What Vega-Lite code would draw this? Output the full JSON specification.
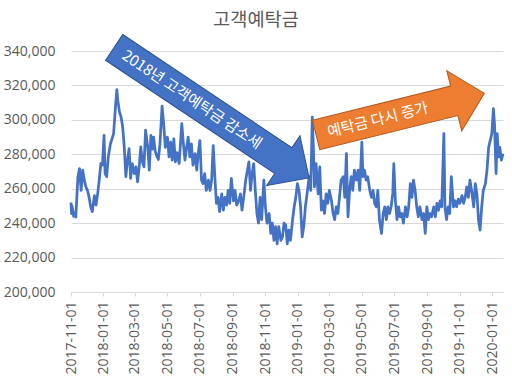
{
  "$schema": "https://vega.github.io/schema/vega-lite/v6.json",
  "width": 432,
  "height": 241,
  "autosize": {"type": "none"},
  "padding": {"left": 71, "top": 51, "right": 9, "bottom": 87},
  "background": "white",
  "title": {
    "text": "고객예탁금",
    "anchor": "middle",
    "dx": -31,
    "offset": 3,
    "font": "Noto Sans CJK KR",
    "fontSize": 18.67,
    "fontWeight": "normal",
    "color": "#595959"
  },
  "config": {
    "view": {"stroke": null},
    "axis": {
      "labelFont": "Open Sans",
      "labelFontSize": 14,
      "labelColor": "#595959",
      "gridColor": "#D9D9D9",
      "gridWidth": 1,
      "domainColor": "#D9D9D9",
      "tickColor": "#D9D9D9",
      "title": null
    }
  },
  "datasets": {
    "deposits": [
      {"date": "2017-11-01", "value": 252000},
      {"date": "2017-11-02", "value": 245500},
      {"date": "2017-11-03", "value": 250000},
      {"date": "2017-11-06", "value": 244000},
      {"date": "2017-11-08", "value": 246000},
      {"date": "2017-11-10", "value": 243500},
      {"date": "2017-11-14", "value": 267000},
      {"date": "2017-11-17", "value": 271700},
      {"date": "2017-11-20", "value": 259000},
      {"date": "2017-11-23", "value": 270800},
      {"date": "2017-11-26", "value": 265000},
      {"date": "2017-11-29", "value": 261000},
      {"date": "2017-12-02", "value": 259000},
      {"date": "2017-12-05", "value": 255000},
      {"date": "2017-12-08", "value": 249500},
      {"date": "2017-12-11", "value": 246700},
      {"date": "2017-12-15", "value": 256000},
      {"date": "2017-12-18", "value": 250500},
      {"date": "2017-12-21", "value": 257000},
      {"date": "2017-12-24", "value": 265000},
      {"date": "2017-12-27", "value": 274600},
      {"date": "2017-12-30", "value": 273700},
      {"date": "2018-01-02", "value": 291000},
      {"date": "2018-01-04", "value": 268800},
      {"date": "2018-01-07", "value": 267000},
      {"date": "2018-01-10", "value": 278500},
      {"date": "2018-01-14", "value": 286000},
      {"date": "2018-01-17", "value": 289000},
      {"date": "2018-01-20", "value": 292000},
      {"date": "2018-01-23", "value": 305500},
      {"date": "2018-01-26", "value": 317500},
      {"date": "2018-01-28", "value": 311000},
      {"date": "2018-01-31", "value": 304600},
      {"date": "2018-02-03", "value": 301700},
      {"date": "2018-02-06", "value": 296000},
      {"date": "2018-02-09", "value": 284000},
      {"date": "2018-02-12", "value": 267000},
      {"date": "2018-02-15", "value": 276600},
      {"date": "2018-02-18", "value": 283300},
      {"date": "2018-02-21", "value": 266000},
      {"date": "2018-02-24", "value": 274600},
      {"date": "2018-02-28", "value": 268800},
      {"date": "2018-03-03", "value": 272700},
      {"date": "2018-03-06", "value": 264000},
      {"date": "2018-03-09", "value": 272700},
      {"date": "2018-03-12", "value": 284300},
      {"date": "2018-03-15", "value": 275600},
      {"date": "2018-03-18", "value": 272700},
      {"date": "2018-03-21", "value": 294000},
      {"date": "2018-03-25", "value": 284300},
      {"date": "2018-03-28", "value": 270800},
      {"date": "2018-03-31", "value": 291000},
      {"date": "2018-04-03", "value": 283000},
      {"date": "2018-04-05", "value": 290000},
      {"date": "2018-04-08", "value": 282000},
      {"date": "2018-04-11", "value": 279000},
      {"date": "2018-04-14", "value": 277000},
      {"date": "2018-04-17", "value": 286000},
      {"date": "2018-04-21", "value": 308000},
      {"date": "2018-04-24", "value": 297800},
      {"date": "2018-04-27", "value": 284000},
      {"date": "2018-05-01", "value": 290000},
      {"date": "2018-05-04", "value": 278500},
      {"date": "2018-05-07", "value": 287000},
      {"date": "2018-05-10", "value": 276600},
      {"date": "2018-05-13", "value": 289000},
      {"date": "2018-05-16", "value": 275600},
      {"date": "2018-05-19", "value": 281000},
      {"date": "2018-05-23", "value": 274600},
      {"date": "2018-05-28", "value": 297800},
      {"date": "2018-05-31", "value": 286000},
      {"date": "2018-06-03", "value": 276600},
      {"date": "2018-06-06", "value": 284000},
      {"date": "2018-06-09", "value": 290000},
      {"date": "2018-06-12", "value": 278500},
      {"date": "2018-06-15", "value": 286000},
      {"date": "2018-06-18", "value": 273700},
      {"date": "2018-06-22", "value": 280400},
      {"date": "2018-06-25", "value": 270800},
      {"date": "2018-06-28", "value": 281000},
      {"date": "2018-07-01", "value": 288000},
      {"date": "2018-07-04", "value": 265000},
      {"date": "2018-07-07", "value": 263000},
      {"date": "2018-07-10", "value": 268800},
      {"date": "2018-07-13", "value": 259000},
      {"date": "2018-07-17", "value": 265000},
      {"date": "2018-07-20", "value": 259000},
      {"date": "2018-07-23", "value": 265000},
      {"date": "2018-07-26", "value": 285000},
      {"date": "2018-07-29", "value": 267000},
      {"date": "2018-08-01", "value": 251500},
      {"date": "2018-08-04", "value": 255000},
      {"date": "2018-08-07", "value": 246700},
      {"date": "2018-08-11", "value": 257000},
      {"date": "2018-08-14", "value": 247500},
      {"date": "2018-08-17", "value": 255000},
      {"date": "2018-08-20", "value": 250500},
      {"date": "2018-08-23", "value": 259000},
      {"date": "2018-08-26", "value": 251500},
      {"date": "2018-08-29", "value": 266000},
      {"date": "2018-09-02", "value": 253000},
      {"date": "2018-09-05", "value": 259000},
      {"date": "2018-09-08", "value": 250500},
      {"date": "2018-09-12", "value": 253000},
      {"date": "2018-09-15", "value": 257000},
      {"date": "2018-09-18", "value": 247500},
      {"date": "2018-09-22", "value": 257000},
      {"date": "2018-09-25", "value": 265000},
      {"date": "2018-10-01", "value": 275600},
      {"date": "2018-10-04", "value": 259000},
      {"date": "2018-10-07", "value": 268800},
      {"date": "2018-10-10", "value": 274600},
      {"date": "2018-10-13", "value": 259000},
      {"date": "2018-10-16", "value": 245600},
      {"date": "2018-10-19", "value": 240000},
      {"date": "2018-10-22", "value": 255000},
      {"date": "2018-10-25", "value": 242000},
      {"date": "2018-10-29", "value": 265000},
      {"date": "2018-11-01", "value": 249500},
      {"date": "2018-11-04", "value": 240000},
      {"date": "2018-11-08", "value": 245600},
      {"date": "2018-11-11", "value": 234000},
      {"date": "2018-11-14", "value": 240000},
      {"date": "2018-11-17", "value": 230000},
      {"date": "2018-11-20", "value": 238000},
      {"date": "2018-11-23", "value": 228000},
      {"date": "2018-11-26", "value": 238000},
      {"date": "2018-11-30", "value": 230000},
      {"date": "2018-12-03", "value": 232000},
      {"date": "2018-12-06", "value": 240000},
      {"date": "2018-12-09", "value": 239000},
      {"date": "2018-12-12", "value": 228000},
      {"date": "2018-12-15", "value": 236000},
      {"date": "2018-12-18", "value": 230000},
      {"date": "2018-12-22", "value": 242000},
      {"date": "2018-12-25", "value": 249500},
      {"date": "2018-12-28", "value": 255000},
      {"date": "2018-12-31", "value": 263000},
      {"date": "2019-01-03", "value": 259000},
      {"date": "2019-01-06", "value": 249500},
      {"date": "2019-01-09", "value": 232000},
      {"date": "2019-01-12", "value": 238000},
      {"date": "2019-01-15", "value": 249500},
      {"date": "2019-01-19", "value": 259000},
      {"date": "2019-01-22", "value": 267000},
      {"date": "2019-01-25", "value": 259000},
      {"date": "2019-01-28", "value": 301600},
      {"date": "2019-01-30", "value": 284000},
      {"date": "2019-02-01", "value": 261000},
      {"date": "2019-02-04", "value": 274600},
      {"date": "2019-02-08", "value": 257000},
      {"date": "2019-02-11", "value": 272700},
      {"date": "2019-02-14", "value": 247500},
      {"date": "2019-02-17", "value": 253000},
      {"date": "2019-02-20", "value": 245600},
      {"date": "2019-02-23", "value": 257000},
      {"date": "2019-02-26", "value": 251500},
      {"date": "2019-03-01", "value": 259000},
      {"date": "2019-03-05", "value": 253000},
      {"date": "2019-03-08", "value": 245600},
      {"date": "2019-03-11", "value": 242000},
      {"date": "2019-03-14", "value": 249500},
      {"date": "2019-03-17", "value": 245600},
      {"date": "2019-03-20", "value": 255000},
      {"date": "2019-03-23", "value": 265000},
      {"date": "2019-03-27", "value": 267000},
      {"date": "2019-03-30", "value": 255000},
      {"date": "2019-04-02", "value": 280400},
      {"date": "2019-04-05", "value": 243700},
      {"date": "2019-04-08", "value": 259000},
      {"date": "2019-04-11", "value": 267000},
      {"date": "2019-04-14", "value": 259000},
      {"date": "2019-04-17", "value": 270800},
      {"date": "2019-04-21", "value": 265000},
      {"date": "2019-04-24", "value": 270800},
      {"date": "2019-04-27", "value": 259000},
      {"date": "2019-05-01", "value": 287000},
      {"date": "2019-05-03", "value": 267000},
      {"date": "2019-05-06", "value": 270800},
      {"date": "2019-05-09", "value": 265000},
      {"date": "2019-05-12", "value": 267000},
      {"date": "2019-05-16", "value": 259000},
      {"date": "2019-05-19", "value": 255000},
      {"date": "2019-05-22", "value": 259000},
      {"date": "2019-05-25", "value": 251500},
      {"date": "2019-05-28", "value": 249500},
      {"date": "2019-05-31", "value": 259000},
      {"date": "2019-06-03", "value": 242000},
      {"date": "2019-06-07", "value": 234000},
      {"date": "2019-06-10", "value": 245600},
      {"date": "2019-06-13", "value": 249500},
      {"date": "2019-06-16", "value": 242000},
      {"date": "2019-06-19", "value": 249500},
      {"date": "2019-06-22", "value": 245600},
      {"date": "2019-06-25", "value": 249500},
      {"date": "2019-06-28", "value": 257000},
      {"date": "2019-06-30", "value": 274600},
      {"date": "2019-07-03", "value": 253000},
      {"date": "2019-07-06", "value": 242000},
      {"date": "2019-07-09", "value": 249500},
      {"date": "2019-07-12", "value": 243700},
      {"date": "2019-07-15", "value": 245600},
      {"date": "2019-07-18", "value": 240000},
      {"date": "2019-07-22", "value": 249500},
      {"date": "2019-07-25", "value": 243700},
      {"date": "2019-07-28", "value": 249500},
      {"date": "2019-07-31", "value": 263000},
      {"date": "2019-08-03", "value": 255000},
      {"date": "2019-08-06", "value": 265000},
      {"date": "2019-08-09", "value": 259000},
      {"date": "2019-08-12", "value": 249500},
      {"date": "2019-08-15", "value": 243700},
      {"date": "2019-08-18", "value": 249500},
      {"date": "2019-08-22", "value": 242000},
      {"date": "2019-08-25", "value": 245600},
      {"date": "2019-08-28", "value": 234000},
      {"date": "2019-08-31", "value": 249500},
      {"date": "2019-09-03", "value": 242000},
      {"date": "2019-09-06", "value": 245600},
      {"date": "2019-09-09", "value": 243700},
      {"date": "2019-09-13", "value": 249500},
      {"date": "2019-09-16", "value": 243700},
      {"date": "2019-09-19", "value": 251500},
      {"date": "2019-09-22", "value": 247500},
      {"date": "2019-09-25", "value": 253000},
      {"date": "2019-09-28", "value": 249500},
      {"date": "2019-10-02", "value": 292000},
      {"date": "2019-10-04", "value": 249500},
      {"date": "2019-10-07", "value": 242000},
      {"date": "2019-10-10", "value": 249500},
      {"date": "2019-10-13", "value": 245600},
      {"date": "2019-10-16", "value": 267000},
      {"date": "2019-10-20", "value": 249500},
      {"date": "2019-10-23", "value": 253000},
      {"date": "2019-10-26", "value": 249500},
      {"date": "2019-10-29", "value": 254000},
      {"date": "2019-11-01", "value": 251500},
      {"date": "2019-11-05", "value": 256000},
      {"date": "2019-11-08", "value": 251500},
      {"date": "2019-11-11", "value": 255000},
      {"date": "2019-11-14", "value": 261000},
      {"date": "2019-11-17", "value": 255000},
      {"date": "2019-11-20", "value": 265000},
      {"date": "2019-11-23", "value": 259000},
      {"date": "2019-11-27", "value": 249500},
      {"date": "2019-11-30", "value": 263000},
      {"date": "2019-12-03", "value": 257000},
      {"date": "2019-12-06", "value": 242000},
      {"date": "2019-12-09", "value": 236000},
      {"date": "2019-12-12", "value": 249500},
      {"date": "2019-12-15", "value": 259000},
      {"date": "2019-12-19", "value": 263000},
      {"date": "2019-12-22", "value": 270800},
      {"date": "2019-12-25", "value": 284000},
      {"date": "2019-12-28", "value": 288000},
      {"date": "2019-12-31", "value": 292000},
      {"date": "2020-01-03", "value": 306500},
      {"date": "2020-01-05", "value": 297800},
      {"date": "2020-01-08", "value": 268800},
      {"date": "2020-01-10", "value": 292000},
      {"date": "2020-01-13", "value": 278500},
      {"date": "2020-01-15", "value": 284000},
      {"date": "2020-01-18", "value": 276600},
      {"date": "2020-01-21", "value": 280400}
    ]
  },
  "encoding": {
    "x": {
      "field": "date",
      "type": "temporal",
      "scale": {
        "type": "utc",
        "domain": [
          {"year": 2017, "month": 11, "date": 1, "utc": true},
          {"year": 2020, "month": 1, "date": 21, "utc": true}
        ]
      },
      "axis": {
        "values": [
          {"year": 2017, "month": 11, "date": 1, "utc": true},
          {"year": 2018, "month": 1, "date": 1, "utc": true},
          {"year": 2018, "month": 3, "date": 1, "utc": true},
          {"year": 2018, "month": 5, "date": 1, "utc": true},
          {"year": 2018, "month": 7, "date": 1, "utc": true},
          {"year": 2018, "month": 9, "date": 1, "utc": true},
          {"year": 2018, "month": 11, "date": 1, "utc": true},
          {"year": 2019, "month": 1, "date": 1, "utc": true},
          {"year": 2019, "month": 3, "date": 1, "utc": true},
          {"year": 2019, "month": 5, "date": 1, "utc": true},
          {"year": 2019, "month": 7, "date": 1, "utc": true},
          {"year": 2019, "month": 9, "date": 1, "utc": true},
          {"year": 2019, "month": 11, "date": 1, "utc": true},
          {"year": 2020, "month": 1, "date": 1, "utc": true}
        ],
        "labelExpr": "utcFormat(datum.value, '%Y-%m-%d')",
        "labelAngle": 270,
        "labelAlign": "right",
        "labelBaseline": "middle",
        "labelPadding": 5,
        "tickSize": 4,
        "grid": false,
        "domain": true,
        "labelOverlap": false,
        "labelBound": false,
        "labelFlush": false
      }
    },
    "y": {
      "field": "value",
      "type": "quantitative",
      "scale": {"domain": [200000, 340000], "nice": false, "zero": false},
      "axis": {
        "values": [200000, 220000, 240000, 260000, 280000, 300000, 320000, 340000],
        "format": ",d",
        "ticks": false,
        "tickSize": 0,
        "domain": false,
        "grid": true,
        "labelPadding": 16
      }
    }
  },
  "layer": [
    {
      "data": {"name": "deposits"},
      "mark": {"type": "line", "color": "#4472C4", "strokeWidth": 2.75, "strokeJoin": "round"}
    },
    {
      "data": {"values": [{"date": "2018-07-23", "value": 304200}]},
      "mark": {
        "type": "point",
        "shape": "M -1 -0.132 L 0.735 -0.132 L 0.735 -0.256 L 1 0 L 0.735 0.256 L 0.735 0.132 L -1 0.132 Z",
        "size": 55037,
        "angle": 33.8,
        "filled": true,
        "fill": "#4472C4",
        "stroke": "#2F528F",
        "strokeWidth": 1,
        "opacity": 1,
        "fillOpacity": 1
      }
    },
    {
      "data": {"values": [{"date": "2018-06-16", "value": 311800, "label": "2018년 고객예탁금 감소세"}]},
      "mark": {
        "type": "text",
        "angle": 33.8,
        "font": "Noto Sans CJK KR",
        "fontSize": 15,
        "color": "white",
        "align": "center",
        "baseline": "middle"
      },
      "encoding": {"text": {"field": "label"}}
    },
    {
      "data": {"values": [{"date": "2019-07-12", "value": 303300}]},
      "mark": {
        "type": "point",
        "shape": "M -1 -0.175 L 0.643 -0.175 L 0.643 -0.358 L 1 0 L 0.643 0.358 L 0.643 0.175 L -1 0.175 Z",
        "size": 30033,
        "angle": -13.9,
        "filled": true,
        "fill": "#ED7D31",
        "stroke": "#AE5A21",
        "strokeWidth": 1,
        "opacity": 1,
        "fillOpacity": 1
      }
    },
    {
      "data": {"values": [{"date": "2019-05-31", "value": 300100, "label": "예탁금 다시 증가"}]},
      "mark": {
        "type": "text",
        "angle": -13.9,
        "font": "Noto Sans CJK KR",
        "fontSize": 15,
        "color": "white",
        "align": "center",
        "baseline": "middle"
      },
      "encoding": {"text": {"field": "label"}}
    }
  ]
}
